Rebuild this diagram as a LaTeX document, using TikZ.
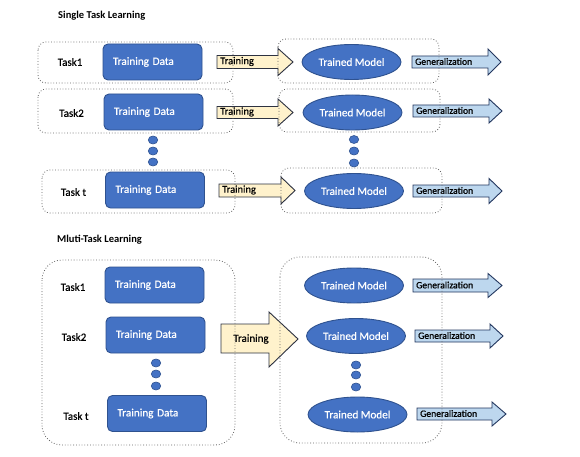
\documentclass[tikz,border=0pt]{standalone}
\usepackage{fontspec}
\setmainfont{Carlito}
\newfontfamily\heavyish[FakeBold=0.5]{Carlito}
\usetikzlibrary{shapes.geometric}
\definecolor{offblue}{RGB}{68,114,196}
\definecolor{offblueedge}{RGB}{47,82,143}
\definecolor{trainfill}{RGB}{255,242,204}
\definecolor{trainedge}{RGB}{45,50,65}
\definecolor{genfill}{RGB}{189,215,238}
\definecolor{genedge}{RGB}{35,55,95}
\definecolor{dotline}{RGB}{100,100,100}
\newcommand{\blockarr}[9]{%
  % #1 name, #2 x start, #3 head x, #4 tip x, #5 y centre, #6 half body, #7 half head, #8 style, #9 text
  \draw[#8] ({#2},{#5-#6}) -- ({#3},{#5-#6}) -- ({#3},{#5-#7}) -- ({#4},{#5})
     -- ({#3},{#5+#7}) -- ({#3},{#5+#6}) -- ({#2},{#5+#6}) -- cycle;
  \node[arrtext,anchor=west] (#1) at ({#2+2},{#5-0.5}) {#9};
}
\begin{document}
\begin{tikzpicture}[x=1pt,y=-1pt,
  tdbox/.style={rectangle,rounded corners=5pt,fill=offblue,draw=offblueedge,line width=0.9pt,
     minimum width=99pt,minimum height=36pt,text width=79pt,inner xsep=10pt,align=left,
     text=white,font=\heavyish\fontsize{11.2}{13}\selectfont},
  tmell/.style={ellipse,fill=offblue,draw=offblueedge,line width=0.9pt,inner sep=0pt,
     minimum width=99pt,minimum height=35pt,text=white,font=\heavyish\fontsize{11.2}{13}\selectfont},
  dotnode/.style={ellipse,fill=offblue,draw=offblueedge,line width=0.6pt,inner sep=0pt,
     minimum width=9.5pt,minimum height=8pt},
  tasklbl/.style={font=\heavyish\fontsize{11}{13}\selectfont,text=black,inner sep=0pt},
  ttl/.style={font=\bfseries\fontsize{10.5}{12}\selectfont,anchor=west,inner sep=0pt},
  arrtext/.style={inner sep=1pt,font=\heavyish\fontsize{10.5}{12}\selectfont},
  trainarr/.style={fill=trainfill,draw=trainedge,line width=0.9pt,line join=miter},
  genarr/.style={fill=genfill,draw=genedge,line width=0.9pt,line join=miter},
  dotbox/.style={draw=dotline,dotted,line width=0.8pt},
]
\useasboundingbox (0,0) rectangle (580,457);
\fill[white] (0,0) rectangle (580,457);

% ---------- Single task learning ----------
\node[ttl] (t1) at (58,16) {Single Task Learning};

\node[tasklbl] (s1) at (70,62) {Task1};
\node[tasklbl] (s2) at (71.5,113) {Task2};
\node[tasklbl] (s3) at (73.5,192) {Task t};

\node[tdbox] (d1) at (152.5,62) {Training Data};
\node[tdbox] (d2) at (153.5,112) {Training Data};
\node[tdbox] (d3) at (155,190) {Training Data};

\node[dotnode] (ld1) at (153,140) {};
\node[dotnode] (ld2) at (153,151) {};
\node[dotnode] (ld3) at (153,162) {};

\node[tmell] (m1) at (351.5,62) {Trained Model};
\node[tmell] (m2) at (352.5,112.5) {Trained Model};
\node[tmell] (m3) at (354,191) {Trained Model};

\node[dotnode] (rd1) at (354,139.5) {};
\node[dotnode] (rd2) at (354,151) {};
\node[dotnode] (rd3) at (354,163) {};

\blockarr{a1}{217}{278}{293}{62}{6.5}{13.5}{trainarr}{Training}
\blockarr{a2}{217}{278}{293}{112.5}{6}{13.5}{trainarr}{Training}
\blockarr{a3}{219}{281}{295}{190.5}{6.5}{13.5}{trainarr}{Training}

\blockarr{g1}{412}{488}{501}{62}{6}{13}{genarr}{\fontsize{9.7}{11}\selectfont Generalization}
\blockarr{g2}{413}{489}{502}{111}{6}{12}{genarr}{\fontsize{9.7}{11}\selectfont Generalization}
\blockarr{g3}{413}{489}{502}{191}{6}{12.5}{genarr}{\fontsize{9.7}{11}\selectfont Generalization}

\draw[dotbox,rounded corners=8pt] (38,42) rectangle (233,83);
\draw[dotbox,rounded corners=8pt] (38,89) rectangle (233,133);
\draw[dotbox,rounded corners=8pt] (42,170) rectangle (235,213);
\draw[dotbox,rounded corners=8pt] (278,39) rectangle (439,83);
\draw[dotbox,rounded corners=8pt] (279,89) rectangle (440,132);
\draw[dotbox,rounded corners=8pt] (281,168) rectangle (442,213);

% ---------- Multi-task learning ----------
\node[ttl] (t2) at (57,240) {Mluti-Task Learning};

\node[tasklbl] (u1) at (73,287) {Task1};
\node[tasklbl] (u2) at (74,337) {Task2};
\node[tasklbl] (u3) at (76,416) {Task t};

\node[tdbox] (e1) at (154.5,285) {Training Data};
\node[tdbox] (e2) at (155.5,335) {Training Data};
\node[tdbox] (e3) at (157,413.5) {Training Data};

\node[dotnode] (md1) at (156,363) {};
\node[dotnode] (md2) at (156,374) {};
\node[dotnode] (md3) at (156,386) {};

\node[tmell] (n1) at (354,285.5) {Trained Model};
\node[tmell] (n2) at (356,336) {Trained Model};
\node[tmell] (n3) at (357.5,414.5) {Trained Model};

\node[dotnode] (nd1) at (356,365) {};
\node[dotnode] (nd2) at (356,375) {};
\node[dotnode] (nd3) at (356,387) {};

\draw[trainarr] (221,324) -- (269,324) -- (269,312) -- (298,339) -- (269,367) -- (269,353) -- (221,353) -- cycle;
\node[arrtext,font=\heavyish\fontsize{11}{13}\selectfont] (bt) at (251,339) {Training};

\blockarr{h1}{413}{488}{502}{285.5}{6.5}{12}{genarr}{\fontsize{9.7}{11}\selectfont Generalization}
\blockarr{h2}{415}{490}{503}{336}{6}{12}{genarr}{\fontsize{9.7}{11}\selectfont Generalization}
\blockarr{h3}{417}{492}{506}{414}{6}{12}{genarr}{\fontsize{9.7}{11}\selectfont Generalization}

\draw[dotbox,rounded corners=20pt] (42,260) rectangle (235,445);
\draw[dotbox,rounded corners=20pt] (280,257) rectangle (442,443);
\end{tikzpicture}
\end{document}
